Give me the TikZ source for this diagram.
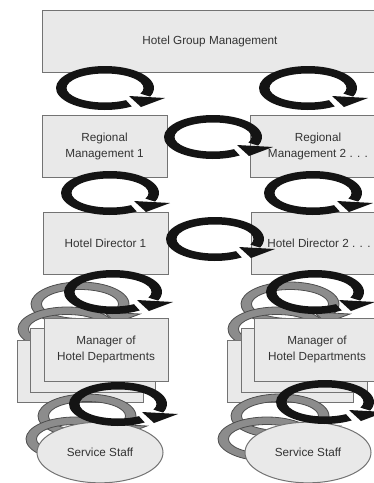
\documentclass[tikz,border=0pt]{standalone}
\usepackage{fontspec}
\setmainfont{Liberation Sans}
\usetikzlibrary{shapes.geometric}
\definecolor{boxFill}{HTML}{E9E9E9}
\definecolor{boxLine}{HTML}{737373}
\definecolor{textGray}{HTML}{333333}
\definecolor{ringFill}{HTML}{8C8C8C}
\definecolor{ringLine}{HTML}{4D4D4D}

\begin{document}
\begin{tikzpicture}[
    x=0.75pt, y=-0.75pt,
    box/.style={rectangle, draw=boxLine, fill=boxFill, line width=0.75pt, inner sep=0pt, minimum height=46.5pt, align=center, text=textGray, font=\fontsize{8.8}{12}\selectfont},
    staffbox/.style={ellipse, draw=boxLine, fill=boxFill, line width=0.75pt, inner sep=0pt, minimum width=94.5pt, minimum height=45.5pt, text=textGray, font=\fontsize{8.8}{12}\selectfont},
    turnblack/.style={fill=black!92},
    turngray/.style={fill=ringFill, draw=ringLine, line width=0.6pt},
    turn/.pic={
        \path[pic actions] (57:49 and 22) arc[start angle=57, end angle=383, x radius=49, y radius=22]
            -- (383:38.5 and 14.5) arc[start angle=383, end angle=57, x radius=38.5, y radius=14.5] -- cycle;
        \path[pic actions] (24,8) -- (60,10) -- (36,19) -- cycle;
    }
]
    \useasboundingbox (0,0) rectangle (374,483);
    \clip (0,0) rectangle (374,483);

    \node[box, minimum width=252pt] (grp) at (210,41) {Hotel Group Management};
    \node[box, minimum width=93.75pt] (reg1) at (104.5,146) {Regional\\Management 1};
    \node[box, minimum width=102pt] (reg2) at (318,146) {Regional\\Management 2 . . .};
    \node[box, minimum width=93.75pt] (dir1) at (105.5,243) {Hotel Director 1};
    \node[box, minimum width=102pt] (dir2) at (319,243) {Hotel Director 2 . . .};

    % stacked departments
    \pic[turngray] at (80,304) {turn};
    \pic[turngray] at (67,329) {turn};
    \pic[turngray] at (290,304) {turn};
    \pic[turngray] at (277,329) {turn};

    \node[box, minimum width=94.5pt] (mgr1c) at (80,371) {};
    \node[box, minimum width=93.75pt, minimum height=48pt] (mgr1b) at (92.5,360) {};
    \node[box, minimum width=93pt, minimum height=47.25pt] (mgr1) at (106,349.5) {Manager of\\Hotel Departments};
    \node[box, minimum width=94.5pt] (mgr2c) at (290,371) {};
    \node[box, minimum width=94.5pt, minimum height=48pt] (mgr2b) at (304,360) {};
    \node[box, minimum width=94.5pt, minimum height=47.25pt] (mgr2) at (317,349.5) {Manager of\\Hotel Departments};

    \pic[turngray] at (87,416) {turn};
    \pic[turngray] at (75,439) {turn};
    \pic[turngray] at (280,416) {turn};
    \pic[turngray] at (267,439) {turn};

    \node[staffbox] (staff1) at (100,452.5) {Service Staff};
    \node[staffbox] (staff2) at (308,452.5) {Service Staff};

    \pic[turnblack] at (105,88) {turn};
    \pic[turnblack] at (308,88) {turn};
    \pic[turnblack] at (213,137) {turn};
    \pic[turnblack] at (110,193) {turn};
    \pic[turnblack] at (313,193) {turn};
    \pic[turnblack] at (215,239) {turn};
    \pic[turnblack] at (113,292) {turn};
    \pic[turnblack] at (315,292) {turn};
    \pic[turnblack] at (118,404) {turn};
    \pic[turnblack] at (325,402) {turn};
\end{tikzpicture}
\end{document}
